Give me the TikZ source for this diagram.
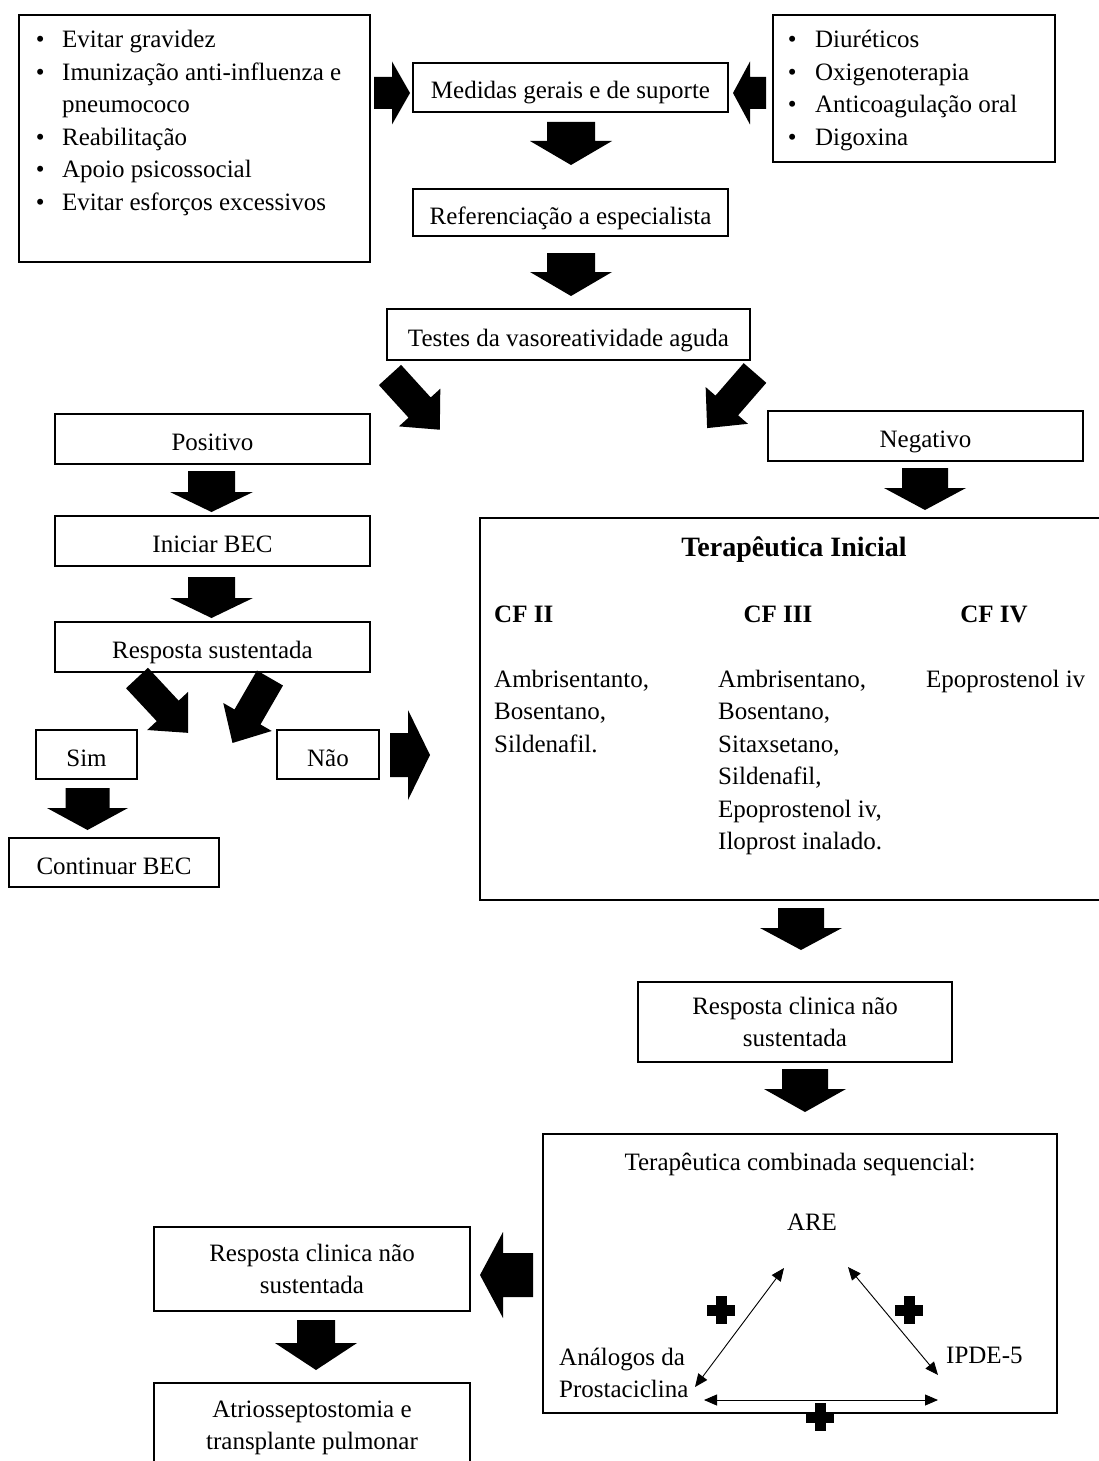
\documentclass[tikz,border=0pt]{standalone}
\usepackage{fontspec}
\setmainfont{Liberation Serif}
\usetikzlibrary{arrows.meta}
\begin{document}
\begin{tikzpicture}[x=1pt,y=-1pt,
  every node/.style={font=\fontsize{25}{32.5}\selectfont, inner sep=0pt},
  box/.style={draw, line width=1.5pt},
  one/.style={text height=23pt, text depth=0pt},
  txt/.style={anchor=base west},
  thinarr/.style={line width=0.9pt, {Triangle[length=13pt,width=11pt]}-{Triangle[length=13pt,width=11pt]}},
  pics/barrow/.style args={#1/#2/#3/#4}{code={\fill (0,-#2) -- ({#1-#4},-#2) -- ({#1-#4},-#3) -- (#1,0) -- ({#1-#4},#3) -- ({#1-#4},#2) -- (0,#2) -- cycle;}},
  pics/plus/.style={code={\fill (-14,-5.5) rectangle (14,5.5); \fill (-5.5,-14) rectangle (5.5,14);}}
]
\useasboundingbox (0,0) rectangle (1099,1461);
\clip (0,0) rectangle (1099,1461);
\fill[white] (0,0) rectangle (1099,1461);

% top row
\node[box,minimum width=351pt,minimum height=247pt] (lb) at (194.5,138.5) {};
\node[txt] (lbt) at (35.6,48) {\begin{tabular}[t]{@{}l@{}}
\makebox[26.4pt][l]{\textbullet}Evitar gravidez\\
\makebox[26.4pt][l]{\textbullet}Imunização anti-influenza e\\
\hspace*{26.4pt}pneumococo\\
\makebox[26.4pt][l]{\textbullet}Reabilitação\\
\makebox[26.4pt][l]{\textbullet}Apoio psicossocial\\
\makebox[26.4pt][l]{\textbullet}Evitar esforços excessivos
\end{tabular}};
\node[box,minimum width=282pt,minimum height=147pt] (rb) at (914,88.5) {};
\node[txt] (rbt) at (787.6,48) {\begin{tabular}[t]{@{}l@{}}
\makebox[27.4pt][l]{\textbullet}Diuréticos\\
\makebox[27.4pt][l]{\textbullet}Oxigenoterapia\\
\makebox[27.4pt][l]{\textbullet}Anticoagulação oral\\
\makebox[27.4pt][l]{\textbullet}Digoxina
\end{tabular}};

\node[box,one,minimum width=315pt,minimum height=49pt] (med) at (570.5,87.5) {Medidas gerais e de suporte};
\node[box,one,minimum width=315pt,minimum height=47pt] (ref) at (570.5,212.5) {Referenciação a especialista};
\node[box,one,minimum width=363pt,minimum height=51pt] (tes) at (568.5,334.5) {Testes da vasoreatividade aguda};
\node[box,one,minimum width=315pt,minimum height=50pt] (pos) at (212.5,439) {Positivo};
\node[box,one,minimum width=315pt,minimum height=50pt] (neg) at (925.5,436) {Negativo};
\node[box,one,minimum width=315pt,minimum height=50pt] (ini) at (212.5,541) {Iniciar BEC};
\node[box,one,minimum width=315pt,minimum height=50pt] (rsu) at (212.5,647) {Resposta sustentada};
\node[box,one,minimum width=101pt,minimum height=49pt] (sim) at (86.5,754.5) {Sim};
\node[box,one,minimum width=102pt,minimum height=49pt] (nao) at (328,754.5) {Não};
\node[box,one,minimum width=210pt,minimum height=49pt] (con) at (114,862.5) {Continuar BEC};

% Terapeutica inicial
\node[box,minimum width=640pt,minimum height=382pt] (ti) at (800,709) {};
\node[font=\fontsize{28}{34}\selectfont\bfseries, anchor=base] (tit) at (794,556) {Terapêutica Inicial};
\node[font=\fontsize{25}{32.5}\selectfont\bfseries, anchor=base west] (cf2) at (494,622) {CF II};
\node[font=\fontsize{25}{32.5}\selectfont\bfseries, anchor=base] (cf3) at (778,622) {CF III};
\node[font=\fontsize{25}{32.5}\selectfont\bfseries, anchor=base] (cf4) at (994,622) {CF IV};
\node[txt] (col1) at (494,687) {\begin{tabular}[t]{@{}l@{}}Ambrisentanto,\\Bosentano,\\Sildenafil.\end{tabular}};
\node[txt] (col2) at (718,687) {\begin{tabular}[t]{@{}l@{}}Ambrisentano,\\Bosentano,\\Sitaxsetano,\\Sildenafil,\\Epoprostenol iv,\\Iloprost inalado.\end{tabular}};
\node[txt] (col3) at (926,687) {Epoprostenol iv};

\node[box,minimum width=314pt,minimum height=80pt,align=center] (rcn) at (795,1022) {Resposta clinica não\\sustentada};

% combinada
\node[box,minimum width=514pt,minimum height=279pt] (comb) at (800,1273.5) {};
\node[anchor=base] (combt) at (800,1170) {Terapêutica combinada sequencial:};
\node[anchor=base] (are) at (812,1230) {ARE};
\node[anchor=base west] (ipde) at (946,1363) {IPDE-5};
\node[txt] (anal) at (559,1365) {\begin{tabular}[t]{@{}l@{}}Análogos da\\Prostaciclina\end{tabular}};
\coordinate (a1) at (695,1387); \coordinate (a2) at (784,1268);
\coordinate (b1) at (848,1267); \coordinate (b2) at (938,1375);
\coordinate (d1) at (704,1400); \coordinate (d2) at (938,1400);
\draw[thinarr] (a1) -- (a2);
\draw[thinarr] (b1) -- (b2);
\draw[thinarr] (d1) -- (d2);
\pic at (721,1310) {plus};
\pic at (909,1310) {plus};
\pic at (820,1417) {plus};

\node[box,minimum width=316pt,minimum height=84pt,align=center] (rcl) at (312,1269) {Resposta clinica não\\sustentada};
\node[box,minimum width=316pt,minimum height=90pt,align=center] (atr) at (312,1428) {Atriosseptostomia e\\transplante pulmonar};

% block arrows
\pic at (374,93) {barrow=36/16/31.5/18};
\pic[rotate=180] at (766,93) {barrow=33/16/31.5/17};
\pic[rotate=-90] at (571,122) {barrow=43/24/41/24};
\pic[rotate=-90] at (571,253) {barrow=43/24/41/24};
\pic[rotate=-47.7] at (390,375) {barrow=74/15/28/30};
\pic[rotate=-131] at (755,373) {barrow=73/15/28/30};
\pic[rotate=-90] at (211.5,471) {barrow=41/23.5/41.5/20};
\pic[rotate=-90] at (211.5,577) {barrow=41/23.5/41.5/20};
\pic[rotate=-47] at (137,678) {barrow=75/15/28/30};
\pic[rotate=-120] at (270,678) {barrow=75/15/28/30};
\pic[rotate=-90] at (87.5,788) {barrow=42/22/40.5/22};
\pic at (390,755) {barrow=40/22/45/22};
\pic[rotate=-90] at (925,468) {barrow=42/23/41/22};
\pic[rotate=-90] at (801,908) {barrow=42/23/41/22};
\pic[rotate=-90] at (805,1069) {barrow=43/23/41/23};
\pic[rotate=180] at (533,1275) {barrow=53/22/43/23};
\pic[rotate=-90] at (316,1320) {barrow=50/19/41/27};
\end{tikzpicture}
\end{document}
